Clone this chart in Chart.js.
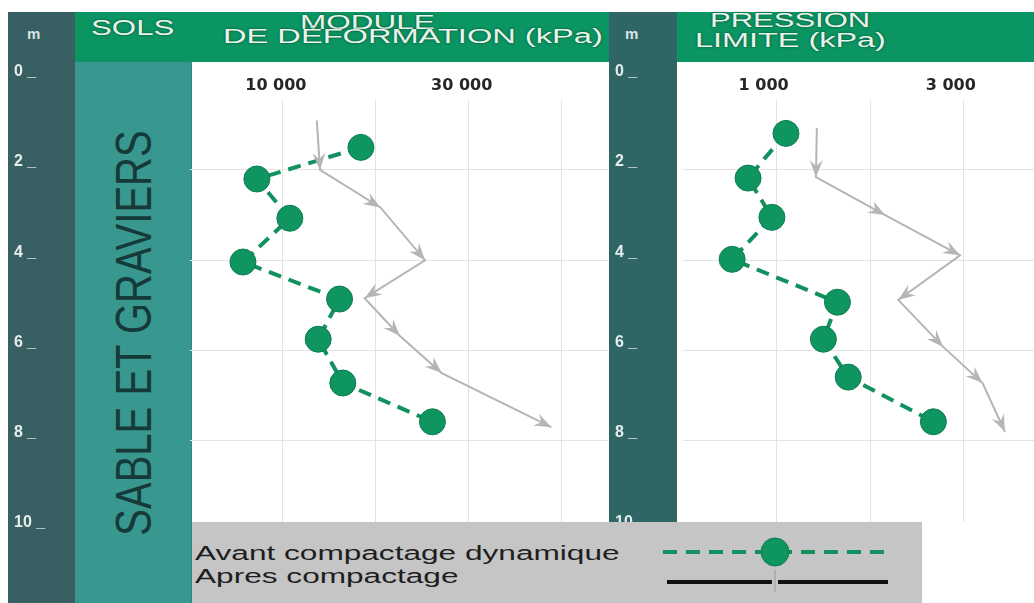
<!DOCTYPE html>
<html lang="fr">
<head>
<meta charset="utf-8">
<title>Sable et graviers - compactage dynamique</title>
<script src="https://cdn.jsdelivr.net/npm/chart.js@4.4.1/dist/chart.umd.min.js"></script>
<style>
  html, body { margin: 0; padding: 0; background: #fff; }
  #page { position: relative; width: 1034px; height: 603px; overflow: hidden; font-family: "Liberation Sans", Arial, sans-serif; }
  .bloc { position: absolute; }
  .prof { background: #385f61; }
  .entete { background: #0b9563; overflow: hidden; }
  .txt { position: absolute; white-space: nowrap; transform-origin: 0 50%; line-height: 1; }
  .titre { color: #e8f4ea; text-shadow: 0 0 2px rgba(0, 60, 35, .9); }
  .m { color: #d9e4e4; font-weight: bold; font-size: 15px; }
  .leg { color: #1e1e1e; font-size: 20px; transform: scaleX(1.58); }
  canvas { position: absolute; z-index: 1; }
</style>
</head>
<body>
<div id="page">
  <!-- colonnes de fond -->
  <div class="bloc prof" style="left:8px;top:12px;width:67px;height:591px"></div>
  <div class="bloc entete" style="left:75px;top:12px;width:534px;height:50px"></div>
  <div class="bloc" style="left:75px;top:62px;width:116px;height:541px;background:#38988f;border-right:1px solid #2c8a82"></div>
  <div class="bloc prof" style="left:609px;top:12px;width:68px;height:510px;background:#306566"></div>
  <div class="bloc entete" style="left:677px;top:12px;width:357px;height:50px"></div>

  <!-- entetes -->
  <span class="txt m" style="left:27px;top:26px">m</span>
  <span class="txt titre" style="left:91px;top:17px;font-size:22px;transform:scaleX(1.42)">SOLS</span>
  <span class="txt titre" style="left:300px;top:11px;font-size:21px;transform:scaleX(1.5)">MODULE</span>
  <span class="txt titre" style="left:223px;top:26px;font-size:20px;transform:scaleX(1.63)">DE DÉFORMATION (kPa)</span>
  <span class="txt m" style="left:625px;top:26px">m</span>
  <span class="txt titre" style="left:710px;top:10px;font-size:20px;transform:scaleX(1.55)">PRESSION</span>
  <span class="txt titre" style="left:695px;top:30px;font-size:20px;transform:scaleX(1.62)">LIMITE (kPa)</span>

  <div style="position:absolute;left:133px;top:333px;transform:translate(-50%,-50%) rotate(-90deg) scaleY(1.25);font-size:40px;color:#163a3a;white-space:nowrap;line-height:1">SABLE ET GRAVIERS</div>

  <canvas id="profilModule" width="600" height="470" style="left:8px;top:62px"></canvas>
  <canvas id="profilPression" width="425" height="470" style="left:609px;top:62px"></canvas>

  <!-- legende -->
  <div style="position:absolute;left:192px;top:522px;width:730px;height:81px;background:#c5c5c5;z-index:2">
    <span class="txt leg" style="left:3px;top:21px">Avant compactage dynamique</span>
    <span class="txt leg" style="left:3px;top:44px">Apres compactage</span>
    <svg width="260" height="81" style="position:absolute;left:458px;top:0">
      <line x1="13" y1="30" x2="237" y2="30" stroke="#10915d" stroke-width="4" stroke-dasharray="14 9"/>
      <circle cx="125" cy="30" r="14" fill="#0f955f" stroke="#0c7d50" stroke-width="1"/>
      <line x1="17" y1="60" x2="122" y2="60" stroke="#111" stroke-width="4"/>
      <line x1="128" y1="60" x2="238" y2="60" stroke="#111" stroke-width="4"/>
      <line x1="125" y1="48" x2="125" y2="70" stroke="#9a9a9a" stroke-width="1"/>
    </svg>
  </div>
</div>

<script>
// profondeurs (m) et graduations
const profondeurs = [0, 2, 4, 6, 8, 10];
const profLabels1 = ['0 _', '2 _', '4 _', '6 _', '8 _', '10 _'];
const profLabels2 = ['0 _', '2 _', '4 _', '6 _', '8 _', '10'];

const moduleTicks = [10000, 20000, 30000, 40000];
const moduleLabels = ['10 000', '', '30 000', ''];
const pressionTicks = [1000, 2000, 3000];
const pressionLabels = ['1 000', '', '3 000'];

// Module de deformation (kPa)
const moduleAvantProf = [1.50, 2.20, 3.07, 4.04, 4.86, 5.75, 6.72, 7.58];
const moduleAvant = [18400, 7200, 10750, 5700, 16100, 13800, 16450, 26100];
const moduleApresProf = [0.90, 2.00, 2.83, 4.00, 4.84, 5.68, 6.50, 7.70];
const moduleApres = [13650, 14000, 20500, 25300, 18800, 22600, 27100, 38900];

// Pression limite (kPa)
const pressionAvantProf = [1.19, 2.18, 3.05, 3.98, 4.93, 5.75, 6.59, 7.58];
const pressionAvant = [1100, 695, 950, 525, 1650, 1500, 1765, 2675];
const pressionApresProf = [1.07, 2.16, 3.00, 3.89, 4.88, 5.92, 6.72, 7.80];
const pressionApres = [1430, 1420, 2160, 2960, 2300, 2780, 3200, 3440];

const points = (vals, profs) => vals.map((v, i) => ({ x: v, y: profs[i] }));

// petites fleches au bout de chaque segment de la courbe "apres"
const flechesPlugin = {
  id: 'fleches',
  afterDatasetsDraw(chart) {
    const ctx = chart.ctx;
    chart.data.datasets.forEach((ds, i) => {
      if (!ds.fleches) return;
      const pts = chart.getDatasetMeta(i).data;
      ctx.save();
      ctx.fillStyle = ds.borderColor;
      for (let j = 1; j < pts.length; j++) {
        const a = pts[j - 1], b = pts[j];
        const ang = Math.atan2(b.y - a.y, b.x - a.x);
        const L = 17, W = 6.5;
        const bx = b.x - L * Math.cos(ang), by = b.y - L * Math.sin(ang);
        ctx.beginPath();
        ctx.moveTo(b.x, b.y);
        ctx.lineTo(bx + W * Math.sin(ang), by - W * Math.cos(ang));
        ctx.lineTo(b.x - 0.65 * L * Math.cos(ang), b.y - 0.65 * L * Math.sin(ang));
        ctx.lineTo(bx - W * Math.sin(ang), by + W * Math.cos(ang));
        ctx.closePath();
        ctx.fill();
      }
      ctx.restore();
    });
  }
};

function creerProfil(id, o) {
  return new Chart(document.getElementById(id), {
    type: 'scatter',
    data: {
      datasets: [
        {
          label: 'Apres compactage',
          data: points(o.apres, o.apresProf),
          showLine: true,
          borderColor: '#b5b5b5',
          borderWidth: 2,
          pointRadius: 0,
          fleches: true
        },
        {
          label: 'Avant compactage dynamique',
          data: points(o.avant, o.avantProf),
          showLine: true,
          borderColor: '#10915d',
          borderWidth: 4,
          borderDash: [13, 8],
          pointRadius: 13,
          pointBackgroundColor: '#0f955f',
          pointBorderColor: '#0c7d50',
          pointBorderWidth: 1
        }
      ]
    },
    options: {
      responsive: false,
      animation: false,
      events: [],
      layout: { autoPadding: false, padding: { left: 6, top: 14, right: 0, bottom: 10 } },
      plugins: { legend: { display: false }, tooltip: { enabled: false } },
      scales: {
        x: {
          type: 'linear',
          position: 'top',
          min: 0,
          max: o.max,
          afterBuildTicks: s => { s.ticks = o.ticks.map(v => ({ value: v })); },
          afterFit: s => { s.height = 24; s.paddingLeft = 0; s.paddingRight = 0; },
          grid: { color: '#e3e3e3', drawTicks: false },
          border: { display: false },
          ticks: {
            padding: 5,
            labelOffset: o.decal,
            maxRotation: 0,
            autoSkip: false,
            color: '#262626',
            font: { family: 'DejaVu Sans', weight: 'bold', size: 16 },
            callback: (v, i) => o.labels[i]
          }
        },
        y: {
          type: 'linear',
          reverse: true,
          min: 0.45,
          max: 9.8,
          afterBuildTicks: s => { s.ticks = profondeurs.map(v => ({ value: v })); },
          afterFit: s => { s.width = o.largeurAxe; s.paddingTop = 0; s.paddingBottom = 0; },
          grid: {
            drawTicks: false,
            color: c => (c.tick && (c.tick.value === 0 || c.tick.value === 10)) ? 'rgba(0,0,0,0)' : '#e3e3e3'
          },
          border: { display: false },
          ticks: {
            crossAlign: 'far',
            labelOffset: -8,
            autoSkip: false,
            color: '#e6eded',
            font: { family: 'Liberation Sans', weight: 'bold', size: 16 },
            callback: (v, i) => o.profLabels[i]
          }
        }
      }
    },
    plugins: [flechesPlugin]
  });
}

creerProfil('profilModule', {
  avant: moduleAvant, avantProf: moduleAvantProf,
  apres: moduleApres, apresProf: moduleApresProf,
  ticks: moduleTicks, labels: moduleLabels, max: 45000, decal: -7,
  profLabels: profLabels1, largeurAxe: 176
});

creerProfil('profilPression', {
  avant: pressionAvant, avantProf: pressionAvantProf,
  apres: pressionApres, apresProf: pressionApresProf,
  ticks: pressionTicks, labels: pressionLabels, max: 3750, decal: -13,
  profLabels: profLabels2, largeurAxe: 68
});
</script>
</body>
</html>
